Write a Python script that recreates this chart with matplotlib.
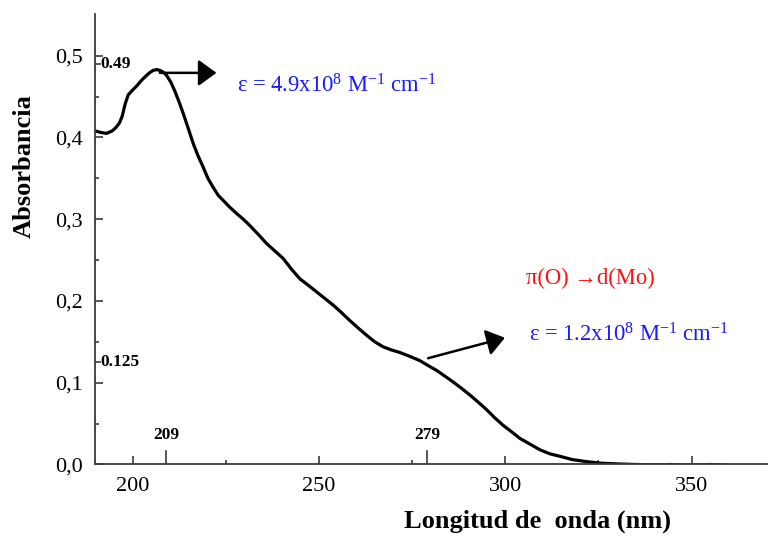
import matplotlib
matplotlib.use("Agg")
import matplotlib.pyplot as plt

# UV-Vis absorption spectrum
wavelength = [190, 191.5, 193, 194.5, 195.5, 196.5, 197.2, 198, 198.8, 200, 201.1, 202.2,
              203.3, 204.5, 205.5, 206.5, 207.3, 208.2, 209.1, 210.2, 211.3, 212.5, 213.6,
              215, 216.3, 217.6, 218.9, 220.2, 221.6, 223, 224.3, 226, 227.9, 229.7, 231.5,
              233.8, 236, 238.2, 240.4, 242.6, 244.9, 247.2, 249.4, 251.6, 253.8, 256, 258.3,
              260.5, 262.8, 265, 267.2, 269.5, 271.7, 274.5, 277.1, 279.3, 281.6, 283.8, 286,
              288.3, 290.5, 292.8, 295, 297.2, 299.4, 301.7, 303.9, 306.6, 309.3, 312, 314.7,
              318, 321.8, 326, 330.8, 335, 340, 344.2, 350, 355, 359.7]
absorbance = [0.408, 0.406, 0.405, 0.408, 0.412, 0.418, 0.426, 0.441, 0.452, 0.458, 0.463,
              0.469, 0.474, 0.479, 0.482, 0.483, 0.482, 0.480, 0.476, 0.468, 0.457, 0.443,
              0.429, 0.410, 0.392, 0.377, 0.364, 0.350, 0.339, 0.329, 0.323, 0.315, 0.307,
              0.300, 0.292, 0.281, 0.270, 0.261, 0.252, 0.239, 0.227, 0.219, 0.211, 0.203,
              0.195, 0.186, 0.176, 0.167, 0.158, 0.150, 0.144, 0.140, 0.137, 0.132, 0.127,
              0.121, 0.115, 0.108, 0.101, 0.093, 0.085, 0.076, 0.067, 0.057, 0.048, 0.040,
              0.032, 0.025, 0.018, 0.013, 0.010, 0.006, 0.0035, 0.0015, 0.0006, 0.0, -0.0005,
              0.0, -0.001, 0.0, -0.001]

x_major = [200, 250, 300, 350]
x_minor = [225, 275, 325]
y_major = [0.0, 0.1, 0.2, 0.3, 0.4, 0.5]
y_major_labels = ["0,0", "0,1", "0,2", "0,3", "0,4", "0,5"]
y_minor = [0.05, 0.15, 0.25, 0.35, 0.45]

peak_wavelengths = [209, 279]
marked_absorbances = [0.49, 0.125]

serif = ["Liberation Serif", "DejaVu Serif"]
plt.rcParams["font.family"] = serif
plt.rcParams["mathtext.fontset"] = "custom"
plt.rcParams["mathtext.rm"] = "Liberation Serif"
plt.rcParams["mathtext.it"] = "Liberation Serif:italic"
plt.rcParams["mathtext.bf"] = "Liberation Serif:bold"

fig = plt.figure(figsize=(7.68, 5.36), dpi=100)
ax = fig.add_axes([0.1237, 0.1334, 0.8763, 0.8405])

ax.plot(wavelength, absorbance, color="black", lw=2.3, solid_joinstyle="round")

ax.set_xlim(189.9, 370.5)
ax.set_ylim(0, 0.551)

spine_col = "#3a3a3a"
for side in ("top", "right"):
    ax.spines[side].set_visible(False)
for side in ("left", "bottom"):
    ax.spines[side].set_color(spine_col)
    ax.spines[side].set_linewidth(1.3)

ax.set_xticks(x_major)
ax.set_xticks(x_minor, minor=True)
ax.set_yticks(y_major)
ax.set_yticklabels(y_major_labels)
ax.set_yticks(y_minor, minor=True)
ax.tick_params(which="major", direction="in", length=6, width=1.2, color=spine_col,
               labelsize=16, pad=9)
ax.tick_params(which="minor", direction="in", length=3, width=1.2, color=spine_col)

# Marked peak positions on the wavelength axis
for wl in peak_wavelengths:
    ax.axvline(wl, ymin=0, ymax=0.029, color=spine_col, lw=1.2)
    ax.text(wl, 0.026, f"{wl}", ha="center", va="bottom", fontsize=12.5,
            fontweight="bold")

# Marked absorbance values on the vertical axis
for a in marked_absorbances:
    ax.axhline(a, xmin=0, xmax=0.007, color=spine_col, lw=1.2)
    ax.text(191.3, a, f"{a}", ha="left", va="center", fontsize=12.5, fontweight="bold")

arrow_kw = dict(arrowstyle="-|>,head_length=0.55,head_width=0.4", color="black",
                lw=1.8, shrinkA=0, shrinkB=0, mutation_scale=20)
ax.annotate("", xy=(222.5, 0.479), xytext=(207.3, 0.479), arrowprops=arrow_kw)
ax.annotate("", xy=(299.9, 0.155), xytext=(279.3, 0.130), arrowprops=arrow_kw)

blue = "#1a1aff"
ax.text(228.0, 0.455, r"ε = 4.9x10$^{8}$ M$^{-1}$ cm$^{-1}$", color=blue, fontsize=16.3,
        ha="left", va="baseline")
ax.text(305.5, 0.221, "π(O) →d(Mo)", color="#ff1010", fontsize=16.3, ha="left",
        va="baseline")
ax.text(306.4, 0.151, r"ε = 1.2x10$^{8}$ M$^{-1}$ cm$^{-1}$", color=blue, fontsize=16.3,
        ha="left", va="baseline")

ax.set_xlabel("Longitud de  onda (nm)", fontsize=19, fontweight="bold")
ax.xaxis.set_label_coords(0.658, -0.125)
ax.xaxis.label.set_va("center")
ax.set_ylabel("Absorbancia", fontsize=19, fontweight="bold")
ax.yaxis.set_label_coords(-0.105, 0.663)
ax.yaxis.label.set_va("center")

fig.savefig("out.png", dpi=100)
